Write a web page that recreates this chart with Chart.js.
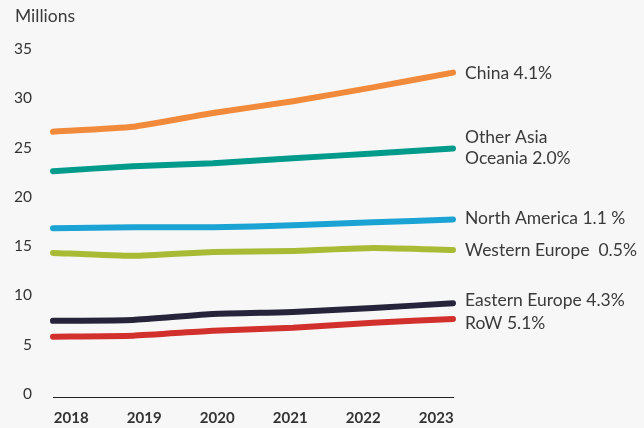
<!DOCTYPE html>
<html lang="en">
<head>
<script src="https://cdn.jsdelivr.net/npm/chart.js@4"></script>
<style>
  html, body { margin: 0; padding: 0; background: #f7f7f7; }
  #wrap { width: 644px; height: 428px; }
</style>
</head>
<body>
<div id="wrap"><canvas id="lineChart" width="644" height="428"></canvas></div>
<script>
    const years = ["2018", "2019", "2020", "2021", "2022", "2023"];
    const china = [26.6, 27.1, 28.5, 29.7, 31.1, 32.6];
    const otherAsia = [22.6, 23.1, 23.4, 23.9, 24.4, 24.9];
    const northAmerica = [16.8, 16.9, 16.9, 17.1, 17.4, 17.7];
    const westernEurope = [14.3, 14.0, 14.4, 14.5, 14.8, 14.6];
    const easternEurope = [7.4, 7.5, 8.1, 8.3, 8.7, 9.2];
    const row = [5.8, 5.9, 6.4, 6.7, 7.2, 7.6];
    const yTicks = [0, 5, 10, 15, 20, 25, 30, 35];

    const seriesNames = ["China", "Other Asia Oceania", "North America", "Western Europe", "Eastern Europe", "RoW"];
    const seriesLabels = [["China 4.1%"], ["Other Asia", "Oceania 2.0%"], ["North America 1.1 %"],
        ["Western Europe  0.5%"], ["Eastern Europe 4.3%"], ["RoW 5.1%"]];
    const colors = ["#f28a3b", "#009b8b", "#1ba3d4", "#a9bb35", "#25243a", "#d2302d"];
    const labelNudge = [1, -1, -1.5, 0, -3, 4];

    const FONT = "Lato, 'Open Sans', sans-serif";

    // right-hand labels + unit title
    const sideLabels = {
        id: "sideLabels",
        afterDraw(chart) {
            const ctx = chart.ctx;
            const y = chart.scales.y;
            ctx.save();
            ctx.fillStyle = "#3a3a3a";
            ctx.font = "17.5px " + FONT;
            ctx.textAlign = "left";
            ctx.textBaseline = "middle";
            ctx.fillText("Millions", 15, 16);
            chart.data.datasets.forEach((ds, i) => {
                const last = ds.data[ds.data.length - 1];
                const lines = seriesLabels[i];
                const cy = y.getPixelForValue(last) + labelNudge[i];
                const lh = 21;
                lines.forEach((t, j) => {
                    ctx.fillText(t, 465, cy + (j - (lines.length - 1) / 2) * lh);
                });
            });
            ctx.restore();
        }
    };

    const allData = [china, otherAsia, northAmerica, westernEurope, easternEurope, row];

    new Chart(document.getElementById("lineChart"), {
        type: "line",
        data: {
            labels: years,
            datasets: allData.map((d, i) => ({
                label: seriesNames[i],
                data: d,
                borderColor: colors[i],
                backgroundColor: colors[i],
                borderWidth: 6,
                borderCapStyle: "round",
                borderJoinStyle: "round",
                pointRadius: 0,
                tension: 0.15,
                clip: false,
                xAxisID: "x"
            }))
        },
        options: {
            responsive: false,
            animation: false,
            layout: { padding: { left: 0, right: 191, top: 49, bottom: 0 } },
            plugins: {
                legend: { display: false },
                tooltip: { enabled: false }
            },
            scales: {
                x: {
                    type: "category",
                    display: false
                },
                xl: {
                    type: "linear",
                    position: "bottom",
                    min: -0.25,
                    max: 5.23,
                    afterBuildTicks: s => { s.ticks = years.map((_, i) => ({ value: i })); },
                    afterFit: s => { s.height = 27; },
                    grid: { display: false, drawTicks: false },
                    border: { display: true, color: "#222", width: 1 },
                    ticks: {
                        autoSkip: false,
                        maxRotation: 0,
                        padding: 11,
                        color: "#333",
                        font: { family: FONT, size: 15, weight: "bold" },
                        callback: v => years[v]
                    }
                },
                y: {
                    min: -0.4,
                    max: 35,
                    afterBuildTicks: s => { s.ticks = yTicks.map(v => ({ value: v })); },
                    afterFit: s => { s.width = 53; },
                    grid: { display: false, drawTicks: false },
                    border: { display: false },
                    ticks: {
                        padding: 21,
                        color: "#333",
                        font: { family: FONT, size: 15.5 }
                    }
                }
            }
        },
        plugins: [sideLabels]
    });
</script>
</body>
</html>
